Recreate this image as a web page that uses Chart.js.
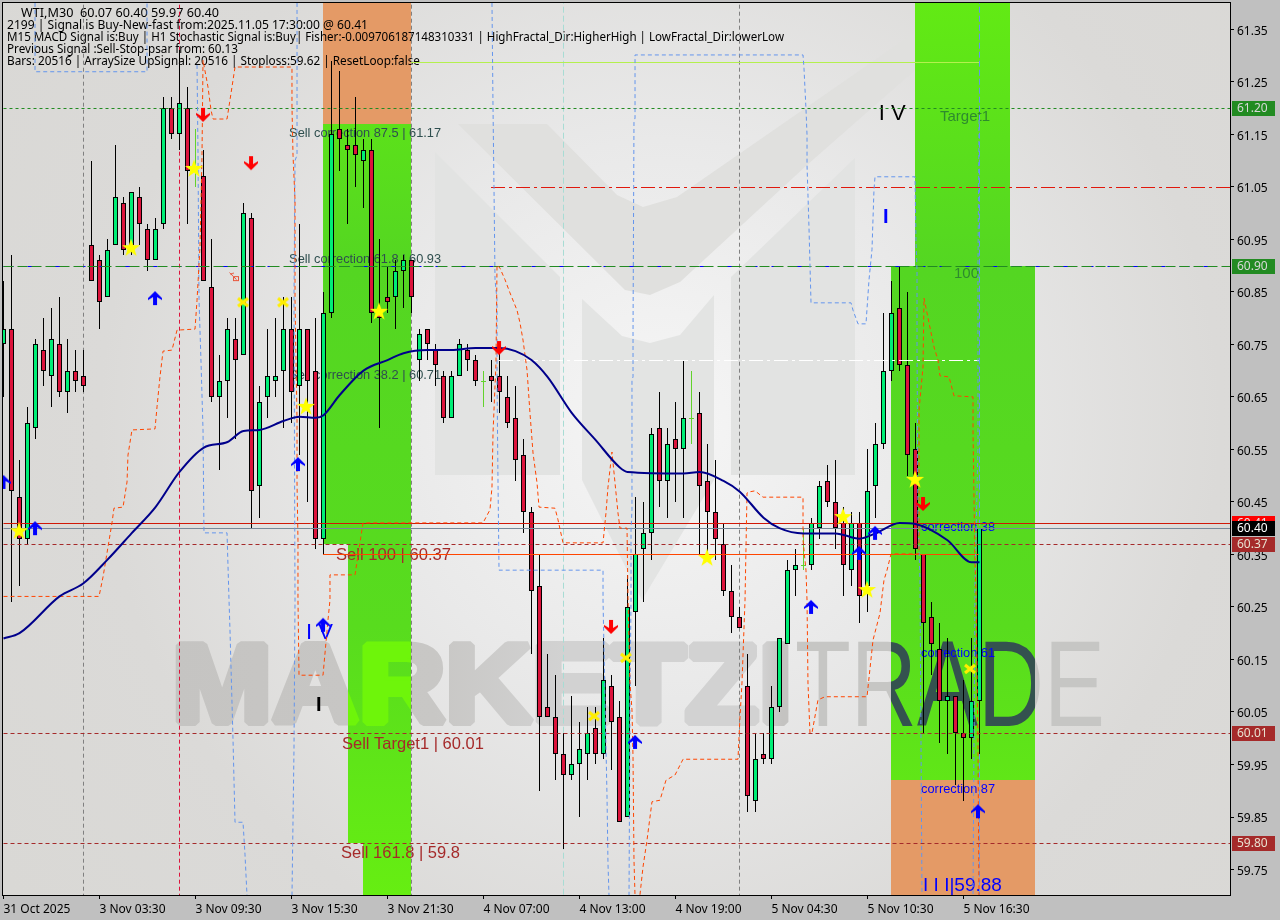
<!DOCTYPE html>
<html>
<head>
<meta charset="utf-8">
<title>WTI,M30</title>
<script src="https://cdn.jsdelivr.net/npm/chart.js@4/dist/chart.umd.min.js"></script>
<style>
  html, body { margin: 0; padding: 0; background: #c0c0c0; }
  #wrap { width: 1280px; height: 920px; }
</style>
</head>
<body>
<div id="wrap"><canvas id="chart" width="1280" height="920"></canvas></div>
<script>
// candles, one entry per bar
const opens = [60.75,60.78,60.46,60.38,60.59,60.74,60.69,60.75,60.66,60.70,60.69,60.94,60.91,60.84,60.94,61.02,60.94,61.03,60.97,60.91,
  60.98,61.20,61.15,61.20,61.08,61.07,60.86,60.65,60.68,60.76,60.73,60.99,60.48,60.65,60.68,60.70,60.78,60.67,60.78,60.70,
  60.38,60.81,61.16,61.13,61.13,61.10,61.12,60.81,60.84,60.84,60.89,60.91,60.72,60.78,60.74,60.69,60.61,60.69,60.74,60.72,
  60.68,60.69,60.69,60.65,60.61,60.54,60.43,60.29,60.06,60.04,59.97,59.93,59.95,59.97,60.02,59.97,60.10,60.04,59.85,60.24,
  60.36,60.39,60.59,60.49,60.57,60.55,60.61,60.62,60.49,60.43,60.37,60.28,60.23,60.10,59.88,59.97,59.96,60.06,60.18,60.32,
  60.33,60.33,60.40,60.49,60.45,60.41,60.32,60.41,60.29,60.48,60.56,60.70,60.82,60.71,60.55,60.35,60.23,60.17,60.07,60.08,
  60.01,60.00,60.07];
const closes = [60.78,60.47,60.38,60.60,60.75,60.70,60.76,60.66,60.70,60.68,60.67,60.87,60.83,60.93,61.03,60.93,61.04,60.98,60.91,60.97,
  61.20,61.15,61.21,61.08,61.08,60.87,60.65,60.68,60.78,60.72,61.00,60.47,60.64,60.69,60.69,60.78,60.66,60.78,60.68,60.38,
  60.81,61.15,61.14,61.12,61.11,61.12,60.81,60.80,60.83,60.89,60.91,60.84,60.77,60.75,60.71,60.61,60.69,60.75,60.72,60.68,
  60.68,60.68,60.66,60.60,60.53,60.43,60.28,60.04,60.04,59.97,59.93,59.95,59.98,60.01,59.97,60.11,60.03,59.84,60.25,60.35,
  60.39,60.58,60.49,60.56,60.55,60.61,60.61,60.48,60.43,60.38,60.28,60.23,60.21,59.89,59.96,59.96,60.06,60.19,60.32,60.33,
  60.33,60.41,60.48,60.45,60.40,60.33,60.41,60.27,60.47,60.56,60.70,60.81,60.71,60.54,60.36,60.22,60.18,60.07,60.08,60.01,
  60.00,60.07,60.40];
const highs = [60.87,60.92,60.53,60.63,60.76,60.80,60.82,60.84,60.76,60.74,60.74,61.10,60.92,60.95,61.13,61.03,61.04,61.05,60.98,60.99,
  61.22,61.22,61.31,61.24,61.16,61.12,60.95,60.73,60.80,60.80,61.02,61.00,60.67,60.78,60.80,60.84,60.84,60.98,60.78,60.80,
  60.85,61.29,61.27,61.16,61.22,61.14,61.14,60.95,60.90,60.91,60.92,60.91,60.78,60.78,60.75,60.70,60.70,60.76,60.75,60.73,
  60.70,60.72,60.74,60.69,60.67,60.57,60.44,60.35,60.16,60.12,60.01,60.08,60.03,60.06,60.06,60.19,60.12,60.07,60.31,60.46,
  60.45,60.59,60.66,60.59,60.64,60.72,60.70,60.66,60.56,60.53,60.41,60.33,60.25,60.16,60.01,60.01,60.10,60.19,60.34,60.36,
  60.40,60.42,60.49,60.52,60.53,60.44,60.43,60.43,60.55,60.60,60.81,60.87,60.90,60.85,60.60,60.35,60.26,60.22,60.19,60.08,
  60.11,60.19,60.40];
const lows = [60.65,60.26,60.29,60.37,60.57,60.67,60.63,60.65,60.62,60.66,60.66,60.87,60.78,60.84,60.94,60.92,60.92,60.94,60.89,60.91,
  60.97,61.14,61.12,60.98,61.05,60.87,60.64,60.51,60.61,60.57,60.73,60.40,60.42,60.61,60.65,60.59,60.60,60.54,60.45,60.36,
  60.35,60.80,61.08,60.98,61.05,61.01,60.79,60.59,60.81,60.78,60.82,60.81,60.68,60.72,60.67,60.60,60.61,60.69,60.70,60.67,
  60.63,60.64,60.62,60.59,60.49,60.39,60.16,59.90,60.04,59.92,59.79,59.92,59.85,59.92,59.95,59.96,59.94,59.84,59.85,60.10,
  60.26,60.34,60.44,60.42,60.45,60.42,60.56,60.35,60.34,60.34,60.27,60.20,60.21,59.86,59.86,59.95,59.95,60.05,60.18,60.27,
  60.32,60.32,60.38,60.44,60.36,60.27,60.29,60.22,60.24,60.42,60.55,60.68,60.70,60.50,60.34,60.01,60.12,59.99,59.97,59.91,
  59.88,59.96,59.97];

// moving average, read at these bars
const maBars = [0,2,7,10,13,16,19,22,25,28,30,32,35,37,39,40,42,45,48,50,53,56,59,62,64,66,68,71,74,77,78,85,87,90,92,95,97,100,104,107,109,112,114,118,121,122];
const maValues = [60.19,60.20,60.27,60.295,60.34,60.39,60.44,60.507,60.553,60.564,60.585,60.587,60.604,60.612,60.61,60.615,60.653,60.70,60.72,60.733,60.739,60.739,60.743,60.743,60.737,60.72,60.688,60.62,60.568,60.516,60.507,60.504,60.507,60.49,60.47,60.42,60.40,60.39,60.39,60.38,60.39,60.41,60.408,60.377,60.335,60.335];

// orange dashed stop lines
const stopABars = [0,11.94,12.44,13.06,13.56,13.81,14.94,15.44,15.56,16.06,18.94,19.19,19.56,19.94,21.06,21.69,23.94,24.19,24.56,24.81,24.94,25.56,25.94,26.19,27.94,28.31,28.94,36.06,36.06,36.19,36.44,36.44,36.44,36.69,36.69,36.81,36.81,36.94,39.94,40.56,40.81,40.81,43.94,44.94,59.94,60.81,61.06,61.19,61.56,61.69,62.06,62.69,63.31,64.19,64.56,64.94,65.44,65.81,66.19,66.69,66.94,68.94,69.31,69.94,74.94,75.31,75.56,76.06,76.44,76.81,77.06,77.94,78.06,78.31,78.56,78.69,78.81,78.94];
const stopAValues = [60.27,60.27,60.307,60.364,60.41,60.438,60.44,60.488,60.539,60.587,60.589,60.631,60.688,60.737,60.739,60.777,60.779,60.834,60.935,61.107,61.291,61.24,61.196,61.179,61.179,61.215,61.278,61.278,61.202,61.11,61.025,60.897,60.834,60.606,60.486,60.377,60.263,60.12,60.12,60.225,60.263,60.311,60.311,60.41,60.41,60.435,60.478,60.581,60.714,60.901,60.895,60.873,60.848,60.815,60.791,60.758,60.701,60.619,60.543,60.486,60.44,60.438,60.416,60.372,60.372,60.429,60.478,60.545,60.486,60.429,60.40,60.40,60.269,60.105,60.054,59.964,59.768,59.70];
const stopBBars = [79.56,79.94,80.44,81.06,82.06,82.81,83.94,84.94,91.81,92.06,92.31,92.69,92.94,93.19,93.94,94.94,99.94,99.94,100.31,100.44,100.56,100.81,101.06,101.81,102.69,107.94,108.69,109.56,110.06,110.44,110.94,114.44,114.44,114.94,115.06,115.69,116.31,116.81,117.06,118.19,118.81,121.19,121.19,121.31,121.44,121.56,121.81,121.94];
const stopBValues = [59.702,59.755,59.806,59.879,59.882,59.92,59.93,59.96,59.96,60.04,60.105,60.263,60.467,60.469,60.471,60.459,60.459,60.377,60.32,60.263,60.105,60.01,60.01,60.073,60.079,60.079,60.187,60.238,60.301,60.32,60.351,60.351,60.625,60.707,60.838,60.791,60.745,60.72,60.69,60.688,60.652,60.65,60.587,60.459,60.334,60.282,59.983,59.70];

// blue dashed envelope lines
const envABars = [3.94,3.94,17.94,17.94];
const envAValues = [61.40,61.269,61.269,61.40];
const envBBars = [24.19,24.31,24.44,24.69,24.94,25.06,27.94,28.19,28.31,28.69,28.94,29.94,30.19,30.44];
const envBValues = [61.282,61.12,60.834,60.716,60.587,60.391,60.391,60.263,60.206,59.997,59.84,59.84,59.778,59.70];
const envCBars = [36.69,36.69,36.44,36.31,36.44,36.31,36.06];
const envCValues = [61.40,61.11,61.10,60.834,60.263,59.978,59.70];
const envDBars = [61.06,61.19,61.31,61.44,61.69,61.69,61.81,61.94,74.94,74.94,75.19,75.44,75.56,75.69];
const envDValues = [61.40,61.20,61.05,60.873,60.834,60.682,60.492,60.32,60.32,60.263,60.073,59.888,59.762,59.70];
const envEBars = [78.19,78.31,78.44,78.44,78.56,78.56,78.69,78.69,78.81,78.94,78.94,99.94,100.06,100.31,100.44,100.44,100.56,100.69,100.81,100.94,105.94,106.19,106.81,107.81,108.19,108.56,108.81,108.94,113.94,114.06,114.19,114.19,114.31,114.56,114.81];
const envEValues = [59.70,60.073,60.263,60.396,60.435,60.682,60.688,60.774,61.173,61.181,61.301,61.301,61.276,61.198,61.149,61.091,61.034,60.97,60.901,60.829,60.829,60.815,60.789,60.789,60.873,60.93,61.044,61.069,61.069,60.949,60.891,60.739,60.421,60.301,59.70];
const envFBars = [121.94,121.81,121.81,121.44,121.19];
const envFValues = [61.177,60.897,60.558,60.301,59.70];

// horizontal levels: price, first bar, last bar
const levelPrices = [61.2875,61.20,61.05,60.90,60.90,60.72,60.41,60.40,60.37,60.351,60.01,59.80];
const levelFrom = [50.94,0,60.94,0,0,61.94,0,0,0,39.94,0,0];
const levelTo = [121.94,153.5,153.5,153.5,153.5,121.94,153.5,153.5,153.5,121.94,153.5,153.5];

// vertical separators, bar index
const sepBars = [10,22,51,70,92,122];

// zones
const zoneFrom = [39.94,39.94,43.06,44.94,113.94,110.94,110.94];
const zoneTo = [50.94,50.94,50.94,50.94,125.81,128.94,128.94];
const zoneHigh = [61.41,61.17,60.37,59.80,61.41,60.90,59.92];
const zoneLow = [61.17,60.37,59.80,59.69,60.90,59.92,59.69];
const zoneKinds = ["loss","profit","profit","profit","profit","profit","loss"];

// signal markers
const starBars = [1.94,15.94,23.81,37.81,46.94,87.94,104.94,113.94,107.94];
const starValues = [60.394,60.933,61.084,60.631,60.812,60.343,60.421,60.492,60.282];
const crossBars = [29.94,34.94,73.81,77.81,120.81];
const crossValues = [60.83,60.83,60.042,60.153,60.132];
const upBars = [0,3.94,18.94,36.81,39.94,78.94,100.94,106.94,108.94,121.81];
const upValues = [60.488,60.40,60.838,60.522,60.216,59.993,60.25,60.353,60.391,59.861];
const downBars = [24.94,30.94,61.94,75.94,114.94];
const downValues = [61.187,61.095,60.743,60.212,60.446];
const hollowBars = [28.81];
const hollowValues = [60.878];

// chart texts
const noteTexts = ["Sell correction 87.5 | 61.17","Sell correction 61.8 | 60.93","Sell correction 38.2 | 60.71","Sell 100 | 60.37","Sell Target1 | 60.01","Sell 161.8 | 59.8","correction 38","correction 61","correction 87","100","Target1","I V","I","I V","I","I I I|59.88","I I I"];
const noteBars = [35.7,35.7,35.7,41.56,42.31,42.19,114.7,114.7,114.7,118.81,117.06,109.4,109.94,37.81,39.06,114.94,18.56];
const noteValues = [61.152,60.912,60.691,60.349,59.989,59.781,60.402,60.162,59.903,60.884,61.183,61.189,60.992,60.20,60.063,59.72,61.41];
const headerLines = [
  "WTI,M30  60.07 60.40 59.97 60.40",
  "2199 | Signal is Buy-New-fast from:2025.11.05 17:30:00 @ 60.41",
  "M15 MACD Signal is:Buy | H1 Stochastic Signal is:Buy| Fisher:-0.009706187148310331 | HighFractal_Dir:HigherHigh | LowFractal_Dir:lowerLow",
  "Previous Signal :Sell-Stop-psar from: 60.13",
  "Bars: 20516 | ArraySize UpSignal: 20516 | Stoploss:59.62 | ResetLoop:false"
];

// axes
const xTickBars = [0,12,24,36,48,60,72,84,96,108,120];
const xTickLabels = ["31 Oct 2025","3 Nov 03:30","3 Nov 09:30","3 Nov 15:30","3 Nov 21:30","4 Nov 07:00","4 Nov 13:00","4 Nov 19:00","5 Nov 04:30","5 Nov 10:30","5 Nov 16:30"];
const yTicks = [61.35,61.25,61.15,61.05,60.95,60.85,60.75,60.65,60.55,60.45,60.35,60.25,60.15,60.05,59.95,59.85,59.75];
const badgePrices = [61.20,60.90,60.41,60.40,60.37,60.01,59.80];

// styling, same order as the arrays above
const levelStyles = [
  { color: "#b4f04e", dash: [] },
  { color: "#228b22", dash: [3, 3] },
  { color: "#e0180c", dash: [14, 4, 3, 4] },
  { color: "#228b22", dash: [10, 4] },
  { color: "#0000ff", dash: [10, 14] },
  { color: "#ffffff", dash: [14, 4, 3, 4] },
  { color: "#d01808", dash: [] },
  { color: "#778899", dash: [] },
  { color: "#a52a2a", dash: [4, 3] },
  { color: "#ff4500", dash: [] },
  { color: "#a52a2a", dash: [4, 3] },
  { color: "#a52a2a", dash: [4, 3] }
];
const sepStyles = [
  { color: "#808080", dash: [4, 3] },
  { color: "#dc143c", dash: [4, 3] },
  { color: "#808080", dash: [4, 3] },
  { color: "#a8dcd4", dash: [6, 3] },
  { color: "#808080", dash: [4, 3] },
  { color: "#6495ed", dash: [6, 3] }
];
const noteStyles = [
  { font: "12.8px 'Liberation Sans'", color: "#2f4f4f" },
  { font: "12.8px 'Liberation Sans'", color: "#2f4f4f" },
  { font: "12.8px 'Liberation Sans'", color: "#2f4f4f" },
  { font: "16.6px 'Liberation Sans'", color: "#a52a2a" },
  { font: "16.5px 'Liberation Sans'", color: "#a52a2a" },
  { font: "16.5px 'Liberation Sans'", color: "#a52a2a" },
  { font: "12.8px 'Liberation Sans'", color: "#0000ff" },
  { font: "12.8px 'Liberation Sans'", color: "#0000ff" },
  { font: "12.8px 'Liberation Sans'", color: "#0000ff" },
  { font: "15px 'Liberation Sans'", color: "#2e8b2e" },
  { font: "15px 'Liberation Sans'", color: "#2e8b2e" },
  { font: "22px 'Liberation Sans'", color: "#000000" },
  { font: "bold 20px 'Liberation Sans'", color: "#0000ff" },
  { font: "22px 'Liberation Sans'", color: "#0000ff" },
  { font: "bold 20px 'Liberation Sans'", color: "#000000" },
  { font: "19px 'Liberation Sans'", color: "#0000ff" },
  { font: "bold 20px 'Liberation Sans'", color: "#0000ff" }
];
const badgeStyles = [
  { bg: "#228b22", fg: "#d8d8d8" },
  { bg: "#228b22", fg: "#d8d8d8" },
  { bg: "#ff0000", fg: "#e8e8e8" },
  { bg: "#000000", fg: "#ffffff" },
  { bg: "#a52a2a", fg: "#e8e0d0" },
  { bg: "#a52a2a", fg: "#e8e0d0" },
  { bg: "#a52a2a", fg: "#e8e0d0" }
];
const UI_FONT = "'Noto Sans'";
// left and right ends of each header line on screen
const headerLeft = [21, 7, 7, 7, 7];
const headerRight = [219, 368, 784, 238, 420];

// marker sprites
function sprite(w, h, paint) {
  const c = document.createElement("canvas");
  c.width = w; c.height = h;
  paint(c.getContext("2d"));
  return c;
}
function poly(ctx, pts, fill) {
  ctx.fillStyle = fill;
  ctx.beginPath();
  pts.forEach((p, i) => i ? ctx.lineTo(p[0], p[1]) : ctx.moveTo(p[0], p[1]));
  ctx.closePath();
  ctx.fill();
}
const starSprite = sprite(22, 22, ctx => {
  const pts = [];
  for (let i = 0; i < 10; i++) {
    const r = i % 2 ? 3.8 : 9.5, a = -Math.PI / 2 + i * Math.PI / 5;
    pts.push([11 + r * Math.cos(a), 11 + r * Math.sin(a)]);
  }
  poly(ctx, pts, "#ffff00");
});
const crossSprite = sprite(14, 14, ctx => {
  ctx.strokeStyle = "#ffee00";
  ctx.lineWidth = 3.2;
  ctx.beginPath();
  ctx.moveTo(2, 3); ctx.lineTo(12, 11);
  ctx.moveTo(12, 3); ctx.lineTo(2, 11);
  ctx.stroke();
});
const upSprite = sprite(14, 16, ctx => {
  poly(ctx, [[7,1],[14,8],[14,10],[9,7],[9,15],[5,15],[5,7],[0,10],[0,8]], "#0000ff");
});
const downSprite = sprite(14, 16, ctx => {
  poly(ctx, [[7,15],[14,8],[14,6],[9,9],[9,1],[5,1],[5,9],[0,6],[0,8]], "#ff0000");
});
const hollowSprite = sprite(12, 12, ctx => {
  ctx.strokeStyle = "#e8563c";
  ctx.strokeRect(5.5, 5.5, 5, 4);
  ctx.beginPath();
  ctx.moveTo(1.5, 1.5); ctx.lineTo(8.5, 8.5);
  ctx.moveTo(2, 3); ctx.lineTo(6, 2);
  ctx.stroke();
});

function toPoints(bars, values) {
  return bars.map((b, i) => ({ x: b, y: values[i] }));
}
function markerSet(bars, values, image) {
  return { type: "line", data: toPoints(bars, values), showLine: false, pointStyle: image, pointRadius: 8, order: 0 };
}
function dashedLine(bars, values, color) {
  return { type: "line", data: toPoints(bars, values), borderColor: color, borderWidth: 1, borderDash: [4, 3], pointRadius: 0, tension: 0, order: 3 };
}

const barIndex = opens.map((v, i) => i);
const isDoji = barIndex.map(i => opens[i] === closes[i]);
const GREEN = "#00ee76", RED = "#dc143c", DOJI = "#62d22c";

const datasets = [
  {
    type: "bar",
    data: barIndex.map(i => ({ x: i, y: [lows[i], highs[i]] })),
    backgroundColor: barIndex.map(i => isDoji[i] ? DOJI : "#000000"),
    barThickness: 1, borderWidth: 0, inflateAmount: 0, grouped: false, order: 6
  },
  {
    type: "bar",
    data: barIndex.map(i => ({ x: i, y: [opens[i], closes[i]] })),
    backgroundColor: barIndex.map(i => isDoji[i] ? DOJI : closes[i] > opens[i] ? GREEN : RED),
    borderColor: barIndex.map(i => isDoji[i] ? DOJI : "#000000"),
    barThickness: 5, borderWidth: 1, borderSkipped: false, inflateAmount: 0, grouped: false, order: 5
  }
];
levelPrices.forEach((p, i) => {
  datasets.push({
    type: "line", snap: true,
    data: [{ x: levelFrom[i], y: p }, { x: levelTo[i], y: p }],
    borderColor: levelStyles[i].color, borderDash: levelStyles[i].dash, borderWidth: 1,
    pointRadius: 0, order: 4
  });
});
sepBars.forEach((b, i) => {
  datasets.push({
    type: "line",
    data: [{ x: b, y: 61.41 }, { x: b, y: 59.69 }],
    borderColor: sepStyles[i].color, borderDash: sepStyles[i].dash, borderWidth: 1,
    pointRadius: 0, order: 7
  });
});
datasets.push(dashedLine(stopABars, stopAValues, "#ff4500"));
datasets.push(dashedLine(stopBBars, stopBValues, "#ff4500"));
datasets.push(dashedLine(envABars, envAValues, "#6495ed"));
datasets.push(dashedLine(envBBars, envBValues, "#6495ed"));
datasets.push(dashedLine(envCBars, envCValues, "#6495ed"));
datasets.push(dashedLine(envDBars, envDValues, "#6495ed"));
datasets.push(dashedLine(envEBars, envEValues, "#6495ed"));
datasets.push(dashedLine(envFBars, envFValues, "#6495ed"));
datasets.push({
  type: "line", data: toPoints(maBars, maValues),
  borderColor: "#00008b", borderWidth: 2, pointRadius: 0, cubicInterpolationMode: "monotone", order: 2
});
datasets.push(markerSet(starBars, starValues, starSprite));
datasets.push(markerSet(crossBars, crossValues, crossSprite));
datasets.push(markerSet(upBars, upValues, upSprite));
datasets.push(markerSet(downBars, downValues, downSprite));
datasets.push(markerSet(hollowBars, hollowValues, hollowSprite));

// fit a word into a box, used for the header and the MARKETZI TRADE mark
function fitText(ctx, text, font, left, right, base, color, thicken) {
  ctx.save();
  ctx.font = font;
  ctx.textBaseline = "alphabetic";
  ctx.textAlign = "left";
  ctx.fillStyle = color;
  const w = ctx.measureText(text).width;
  ctx.translate(left, base);
  ctx.scale((right - left) / w, 1);
  if (thicken) {
    ctx.strokeStyle = color;
    ctx.lineWidth = thicken;
    ctx.lineJoin = "bevel";
    ctx.strokeText(text, 0, 0);
  }
  ctx.fillText(text, 0, 0);
  ctx.restore();
}
function drawLogo(ctx) {
  poly(ctx, [[458,124],[547,124],[617,195],[643,207],[677,197],[950,8],[915,70],[807,165],[680,282],[650,295],[625,290]], "#e0e0de");
  poly(ctx, [[435,152],[560,277],[560,475],[435,475]], "#e2e3e2");
  poly(ctx, [[855,158],[731,277],[731,475],[855,475]], "#e2e3e2");
  poly(ctx, [[582,299],[622,336],[650,343],[680,335],[714,295],[714,480],[642,600],[582,480]], "#e3e4e3");
}
const WORD_A = "MARKETZI", WORD_B = "TRADE";
const WORD_A_FONT = "bold 112px 'Liberation Sans'", WORD_B_FONT = "123px 'Liberation Sans'";

const backdrop = {
  id: "backdrop",
  beforeDatasetsDraw(chart) {
    const { ctx, chartArea: a, scales: { x, y } } = chart;
    ctx.save();
    ctx.beginPath();
    ctx.rect(a.left, a.top, a.right - a.left, a.bottom - a.top);
    ctx.clip();

    const bg = ctx.createRadialGradient(660, 420, 0, 660, 420, 800);
    bg.addColorStop(0, "#f6f6f6");
    bg.addColorStop(0.35, "#e9e9e9");
    bg.addColorStop(0.7, "#dbdad8");
    bg.addColorStop(1, "#d9d8d5");
    ctx.fillStyle = bg;
    ctx.fillRect(a.left, a.top, a.right - a.left, a.bottom - a.top);

    drawLogo(ctx);
    const wm = ctx.createLinearGradient(0, 0, 612, 0);
    wm.addColorStop(0, "#c5c4c2");
    wm.addColorStop(0.4, "#c8c7c5");
    wm.addColorStop(0.6, "#d2d2d2");
    wm.addColorStop(0.9, "#d2d2d2");
    wm.addColorStop(0.93, "#c4c3c1");
    wm.addColorStop(1, "#c4c3c1");
    fitText(ctx, WORD_A, WORD_A_FONT, 172, 792, 722, wm, 8);
    fitText(ctx, WORD_B, WORD_B_FONT, 795, 1105, 726, "#c6c6c4");

    // zones sit on top of the mark and recolour it
    const green = ctx.createLinearGradient(0, a.top, 0, a.bottom);
    green.addColorStop(0, "#62ea14");
    green.addColorStop(0.3, "#54d622");
    green.addColorStop(0.7, "#58dc1e");
    green.addColorStop(1, "#66ee12");
    zoneFrom.forEach((from, i) => {
      const l = Math.round(x.getPixelForValue(from));
      const r = Math.round(x.getPixelForValue(zoneTo[i]));
      const t = Math.round(y.getPixelForValue(zoneHigh[i]));
      const b = Math.round(y.getPixelForValue(zoneLow[i]));
      ctx.fillStyle = zoneKinds[i] === "loss" ? "#e49a66" : green;
      ctx.fillRect(l, t, r - l, b - t);
      if (zoneKinds[i] === "profit") {
        ctx.save();
        ctx.beginPath();
        ctx.rect(l, t, r - l, b - t);
        ctx.clip();
        fitText(ctx, WORD_A, WORD_A_FONT, 172, 792, 722, "#6ef50a", 8);
        fitText(ctx, WORD_B, WORD_B_FONT, 795, 1105, 726, "#34524f");
        ctx.restore();
      }
    });

    // notes stay under the candles
    ctx.textBaseline = "middle";
    ctx.textAlign = "left";
    noteTexts.forEach((t, i) => {
      ctx.font = noteStyles[i].font;
      ctx.fillStyle = noteStyles[i].color;
      ctx.fillText(t, x.getPixelForValue(noteBars[i]), y.getPixelForValue(noteValues[i]));
    });

    headerLines.forEach((t, i) => {
      fitText(ctx, t, "12px " + UI_FONT, headerLeft[i], headerRight[i], 17 + i * 12.1, "#000000");
    });
    ctx.restore();

    // snap candles and level lines to whole pixels
    chart.data.datasets.forEach((ds, di) => {
      const meta = chart.getDatasetMeta(di);
      if (ds.type === "bar") {
        meta.data.forEach(el => {
          el.y = Math.round(el.y);
          el.base = Math.round(el.base);
          if (el.y === el.base) el.base = el.y + 1;
        });
      } else if (ds.snap) {
        meta.data.forEach(el => { el.y = Math.round(el.y) + 0.5; });
      }
    });
  },
  afterDraw(chart) {
    const { ctx, chartArea: a, scales: { y } } = chart;
    ctx.save();
    ctx.strokeStyle = "#000000";
    ctx.lineWidth = 1;
    ctx.strokeRect(a.left - 0.5, a.top - 0.5, a.right - a.left, a.bottom - a.top + 1);
    ctx.textBaseline = "middle";
    ctx.textAlign = "left";
    ctx.font = "12px " + UI_FONT;
    badgePrices.forEach((p, i) => {
      const py = Math.round(y.getPixelForValue(p));
      ctx.fillStyle = badgeStyles[i].bg;
      ctx.fillRect(a.right + 1, py - 7, 43, 15);
      ctx.fillStyle = badgeStyles[i].fg;
      ctx.fillText(p.toFixed(2), a.right + 6, py + 1);
    });
    ctx.restore();
  }
};

function noScalePadding(s) {
  s.paddingTop = 0; s.paddingBottom = 0; s.paddingLeft = 0; s.paddingRight = 0;
}

new Chart(document.getElementById("chart"), {
  type: "bar",
  data: { datasets },
  plugins: [backdrop],
  options: {
    responsive: false,
    animation: false,
    events: [],
    layout: { autoPadding: false, padding: { left: 3, top: 3, right: 0, bottom: 0 } },
    plugins: { legend: { display: false }, title: { display: false }, tooltip: { enabled: false } },
    scales: {
      x: {
        type: "linear",
        offset: false,
        min: -0.0625,
        max: 153.4375,
        afterBuildTicks: s => { s.ticks = xTickBars.map(v => ({ value: v })); },
        afterFit: s => { s.height = 25; noScalePadding(s); },
        border: { display: false },
        grid: { offset: false, drawOnChartArea: false, drawTicks: true, tickLength: 4, tickColor: "#000000" },
        ticks: {
          autoSkip: false, maxRotation: 0, align: "start", padding: 3,
          color: "#000000", font: { family: "Noto Sans", size: 12 },
          callback: v => xTickLabels[xTickBars.indexOf(v)]
        }
      },
      y: {
        position: "right",
        min: 59.7015,
        max: 61.3999,
        afterBuildTicks: s => { s.ticks = yTicks.map(v => ({ value: v })); },
        afterFit: s => { s.width = 49; noScalePadding(s); },
        border: { display: false },
        grid: { drawOnChartArea: false, drawTicks: true, tickLength: 3, tickColor: "#000000" },
        ticks: {
          autoSkip: false, padding: 3, labelOffset: 2,
          color: "#000000", font: { family: "Noto Sans", size: 12 },
          callback: v => v.toFixed(2)
        }
      }
    }
  }
});
</script>
</body>
</html>
